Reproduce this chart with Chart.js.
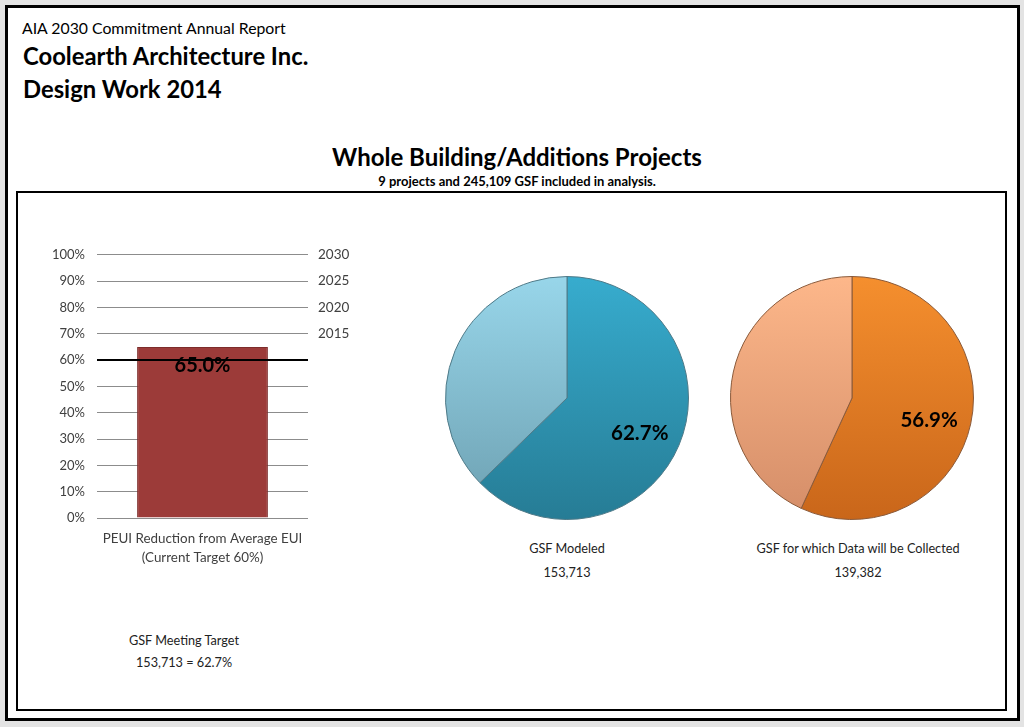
<!DOCTYPE html>
<html>
<head>
<meta charset="utf-8">
<script src="https://cdn.jsdelivr.net/npm/chart.js@4.4.1/dist/chart.umd.min.js"></script>
<style>
  body { margin: 0; background: #e3e3e3; font-family: Lato, "Open Sans", sans-serif; }
  #wrap { position: relative; width: 1024px; height: 727px; overflow: hidden; }
  #page { position: absolute; left: 5px; top: 5px; width: 1015px; height: 716px; box-sizing: border-box; border: 3px solid #000; background: #fff; }
  #inner { position: absolute; left: 16px; top: 191px; width: 991px; height: 520px; box-sizing: border-box; border: 2px solid #000; }
  .t { position: absolute; white-space: nowrap; color: #000; }
  .c { text-align: center; }
  .cap { font-size: 12.7px; line-height: 16px; color: #222; }
  canvas { position: absolute; }
</style>
</head>
<body>
<div id="wrap">
  <div id="page"></div>
  <div id="inner"></div>

  <div class="t" style="left:22px; top:19px; font-size:15.8px; line-height:18px;">AIA 2030 Commitment Annual Report</div>
  <div class="t" style="left:23px; top:42px; font-size:23.8px; line-height:28px; font-weight:bold;">Coolearth Architecture Inc.</div>
  <div class="t" style="left:23px; top:75px; font-size:23.8px; line-height:28px; font-weight:bold;">Design Work 2014</div>

  <div class="t c" style="left:267px; width:500px; top:143px; font-size:24px; line-height:28px; font-weight:bold;">Whole Building/Additions Projects</div>
  <div class="t c" style="left:267px; width:500px; top:174px; font-size:13px; line-height:15px; font-weight:bold;">9 projects and 245,109 GSF included in analysis.</div>

  <canvas id="barChart" width="350" height="340" style="left:20px; top:235px;"></canvas>
  <canvas id="pieModeled" width="244" height="244" style="left:445px; top:276px;"></canvas>
  <canvas id="pieCollected" width="244" height="244" style="left:730px; top:276px;"></canvas>

  <div class="t c cap" style="left:467px; width:200px; top:540px;">GSF Modeled</div>
  <div class="t c cap" style="left:467px; width:200px; top:564px;">153,713</div>
  <div class="t c cap" style="left:708px; width:300px; top:540px;">GSF for which Data will be Collected</div>
  <div class="t c cap" style="left:708px; width:300px; top:564px;">139,382</div>

  <div class="t c cap" style="left:84px; width:200px; top:632px;">GSF Meeting Target</div>
  <div class="t c cap" style="left:84px; width:200px; top:654px;">153,713 = 62.7%</div>
</div>

<script>
// ---- data ----
const barLabels = [['PEUI Reduction from Average EUI', '(Current Target 60%)']];
const barValues = [65.0];
const targetValues = [60];
const yearTickValues = [70, 80, 90, 100];
const yearTickLabels = ['2015', '2020', '2025', '2030'];

const pieLabels = ['Included', 'Remaining'];
const modeledValues = [153713, 91396];
const collectedValues = [139382, 105727];

const FONT = 'Lato, "Open Sans", sans-serif';

/* ---------------------------
   BAR: PEUI reduction
   --------------------------- */

const targetLine = {
  id: 'targetLine',
  afterDatasetsDraw(chart) {
    const { ctx, chartArea, scales } = chart;
    const y = scales.y.getPixelForValue(targetValues[0]);
    ctx.save();
    ctx.strokeStyle = '#000';
    ctx.lineWidth = 2;
    ctx.beginPath();
    ctx.moveTo(chartArea.left, y);
    ctx.lineTo(chartArea.right, y);
    ctx.stroke();

    // value label just inside the bar top
    const bar = chart.getDatasetMeta(0).data[0];
    ctx.fillStyle = '#000';
    ctx.font = 'bold 20px ' + FONT;
    ctx.textAlign = 'center';
    ctx.textBaseline = 'middle';
    ctx.fillText(barValues[0].toFixed(1) + '%', bar.x, bar.y + 19);
    ctx.restore();
  }
};

new Chart(document.getElementById('barChart'), {
  type: 'bar',
  data: {
    labels: barLabels,
    datasets: [{
      data: barValues,
      backgroundColor: ctx => {
        const area = ctx.chart.chartArea;
        if (!area) return '#9c3b39';
        const bar = ctx.chart.getDatasetMeta(0).data[0];
        if (!bar || !bar.width) return '#9c3b39';
        const g = ctx.chart.ctx.createLinearGradient(bar.x - bar.width / 2, 0, bar.x + bar.width / 2, 0);
        g.addColorStop(0, '#8f3331');
        g.addColorStop(0.5, '#a03c3a');
        g.addColorStop(1, '#8f3331');
        return g;
      },
      borderColor: '#7d2d2b',
      borderWidth: 1,
      barPercentage: 1,
      categoryPercentage: 0.62,
      yAxisID: 'y'
    }]
  },
  plugins: [targetLine],
  options: {
    responsive: false,
    animation: false,
    layout: { padding: { top: 12 } },
    plugins: { legend: { display: false }, tooltip: { enabled: false } },
    scales: {
      x: {
        grid: { display: false },
        border: { display: false },
        ticks: { color: '#404040', padding: 3, maxRotation: 0, autoSkip: false, font: { family: FONT, size: 13.4, lineHeight: 1.45 } },
        afterFit: s => { s.height = 57; }
      },
      y: {
        min: 0, max: 100,
        grid: { color: '#8c8c8c', drawTicks: false },
        border: { display: false },
        ticks: { stepSize: 10, padding: 12, color: '#404040', font: { family: FONT, size: 13 }, callback: v => v + '%' },
        afterFit: s => { s.width = 77; }
      },
      y1: {
        position: 'right',
        min: 0, max: 100,
        grid: { display: false, drawTicks: false },
        border: { display: false },
        ticks: {
          stepSize: 10, padding: 10, color: '#404040', font: { family: FONT, size: 13.5 },
          callback: v => {
            const i = yearTickValues.indexOf(v);
            return i >= 0 ? yearTickLabels[i] : '';
          }
        },
        afterFit: s => { s.width = 62; }
      }
    }
  }
});

/* ---------------------------
   PIES: GSF modeled / collected
   --------------------------- */

const sliceLabel = {
  id: 'sliceLabel',
  afterDatasetsDraw(chart) {
    const arc = chart.getDatasetMeta(0).data[0];
    const vals = chart.data.datasets[0].data;
    const total = vals.reduce((a, b) => a + b, 0);
    const mid = (arc.startAngle + arc.endAngle) / 2;
    const r = arc.outerRadius * 0.65;
    const { ctx } = chart;
    ctx.save();
    ctx.fillStyle = '#000';
    ctx.font = 'bold 20.5px ' + FONT;
    ctx.textAlign = 'center';
    ctx.textBaseline = 'middle';
    ctx.fillText((vals[0] / total * 100).toFixed(1) + '%', arc.x + Math.cos(mid) * r, arc.y + Math.sin(mid) * r + 5);
    ctx.restore();
  }
};

function vGrad(chart, top, bottom) {
  const area = chart.chartArea;
  if (!area) return top;
  const g = chart.ctx.createLinearGradient(0, area.top, 0, area.bottom);
  g.addColorStop(0, top);
  g.addColorStop(1, bottom);
  return g;
}

function makePie(id, values, colors, edge) {
  new Chart(document.getElementById(id), {
    type: 'pie',
    data: {
      labels: pieLabels,
      datasets: [{
        data: values,
        backgroundColor: ctx => vGrad(ctx.chart, colors[ctx.dataIndex][0], colors[ctx.dataIndex][1]),
        borderColor: edge,
        borderWidth: 1
      }]
    },
    plugins: [sliceLabel],
    options: {
      responsive: false,
      animation: false,
      plugins: { legend: { display: false }, tooltip: { enabled: false } }
    }
  });
}

makePie('pieModeled', modeledValues, [['#37acce', '#267c95'], ['#98d6ea', '#6c9fb0']], '#4f7a88');
makePie('pieCollected', collectedValues, [['#f58f2e', '#c9661a'], ['#fdb78a', '#d48d68']], '#8a5a3a');
</script>
</body>
</html>
